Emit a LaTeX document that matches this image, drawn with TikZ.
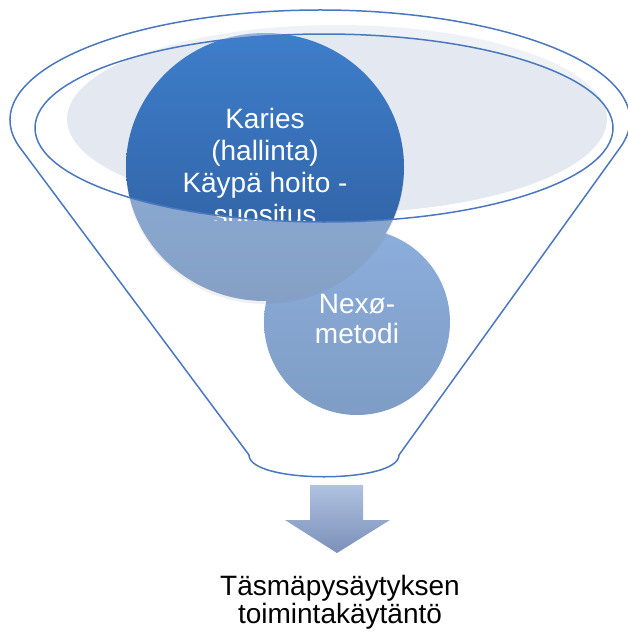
\documentclass[tikz,border=0pt]{standalone}
\usepackage{fontspec}
\setmainfont{Liberation Sans}
\usetikzlibrary{shapes.geometric}
\definecolor{lineblue}{HTML}{4A78C0}
\definecolor{paleell}{HTML}{E3E8F1}
\definecolor{bigtop}{HTML}{3E7ECB}
\definecolor{bigbot}{HTML}{2E5C9C}
\definecolor{smalltop}{HTML}{3A74C4}
\definecolor{smallbot}{HTML}{22569B}
\definecolor{arrtop}{HTML}{AFC2E0}
\definecolor{arrbot}{HTML}{7C8FB9}
\begin{document}
\begin{tikzpicture}[x=1pt,y=-1pt,
  outline/.style={draw=lineblue, line width=1.5pt, line join=round},
  ball/.style={ellipse, inner sep=0pt, draw=none},
  balltext/.style={text=white, align=center, inner sep=0pt, font=\fontsize{28}{32}\selectfont},
  captext/.style={text=black, align=center, inner sep=0pt, font=\fontsize{28}{28}\selectfont}]
\useasboundingbox (0,0) rectangle (627,632);

% pale ellipse inside the funnel mouth
\fill[paleell] (337,119) ellipse[x radius=270, y radius=94];

% small circle
\node[ball, minimum width=186pt, minimum height=186pt, top color=smalltop, bottom color=smallbot] (nexo) at (357,322) {};

% shadow + big circle
\fill[black, opacity=0.10] (265,170) ellipse[x radius=139, y radius=134];
\node[ball, minimum width=278pt, minimum height=268pt, top color=bigtop, bottom color=bigbot] (karies) at (265,167) {};

% glass overlay: funnel body minus the mouth
\fill[white, fill opacity=0.42, even odd rule]
  (19.5,147) arc[start angle=165.8, end angle=374.2, x radius=310, y radius=110]
  -- (399,455) .. controls (399,484) and (249,484) .. (249,455) -- cycle
  (324,128) ellipse[x radius=289, y radius=94];

% texts in the circles
\begin{scope}
  \clip (100,0) rectangle (430,220);
  \node[balltext] (kariestext) at (265,166) {Karies\\(hallinta)\\Käypä hoito -\\suositus};
\end{scope}
\node[balltext, font=\fontsize{28}{30}\selectfont] (nexotext) at (357,319) {Nexø-\\metodi};

% funnel outlines
\draw[outline]
  (19.5,147) arc[start angle=165.8, end angle=374.2, x radius=310, y radius=110]
  -- (399,455) .. controls (399,484) and (249,484) .. (249,455) -- cycle;
\draw[outline] (324,128) ellipse[x radius=289, y radius=94];

% down arrow
\shade[top color=arrtop, bottom color=arrbot]
  (310,485) -- (363,485) -- (363,520) -- (390,520) -- (337,553) -- (285,520) -- (310,520) -- cycle;

% result text
\node[captext] (result) at (340,602) {Täsmäpysäytyksen\\toimintakäytäntö};
\end{tikzpicture}
\end{document}
